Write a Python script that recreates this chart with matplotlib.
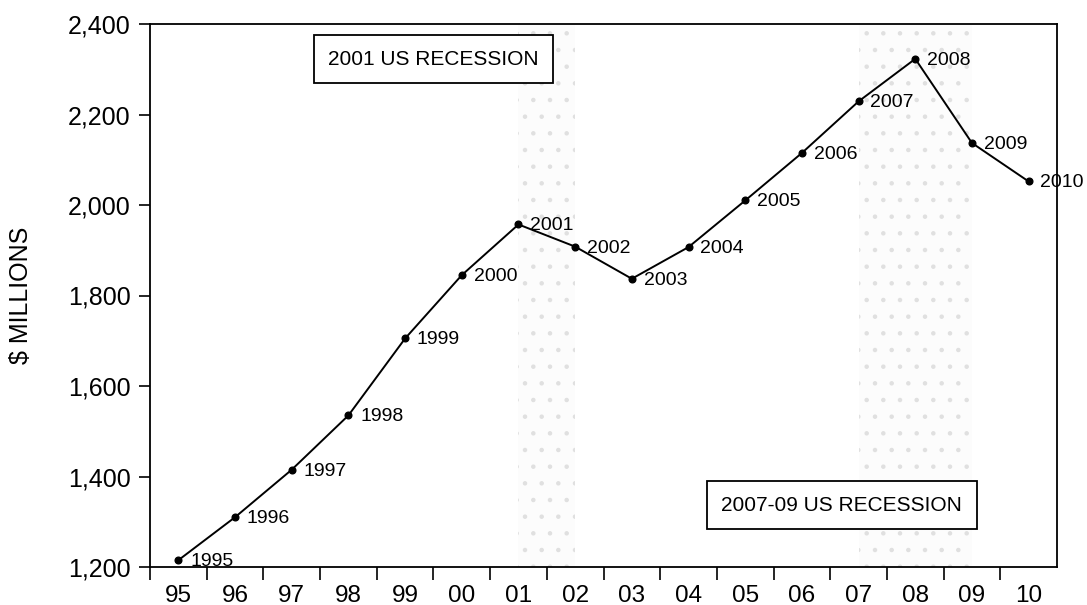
import matplotlib
matplotlib.use("Agg")
import matplotlib.pyplot as plt
from matplotlib.ticker import FixedLocator, FuncFormatter

years = [1995, 1996, 1997, 1998, 1999, 2000, 2001, 2002, 2003, 2004,
         2005, 2006, 2007, 2008, 2009, 2010]
values = [1215, 1310, 1415, 1535, 1705, 1845, 1957, 1908, 1837, 1907,
          2010, 2115, 2229, 2323, 2137, 2052]
tick_labels = ["95", "96", "97", "98", "99", "00", "01", "02", "03", "04",
               "05", "06", "07", "08", "09", "10"]
recessions = [(2001.5, 2002.5), (2007.5, 2009.5)]
recession_labels = ["2001 US RECESSION", "2007-09 US RECESSION"]
y_ticks = [1200, 1400, 1600, 1800, 2000, 2200, 2400]

plt.rcParams['font.family'] = ['Liberation Sans', 'DejaVu Sans']
plt.rcParams['hatch.linewidth'] = 0.8

fig = plt.figure(figsize=(10.87, 6.05), dpi=100)
ax = fig.add_axes([150/1087, 1-567/605, (1057-150)/1087, (567-24)/605])

xs = [y + 0.5 for y in years]

for (a, b) in recessions:
    ax.axvspan(a, b, facecolor='#fcfcfc', edgecolor='#e0e0e0', hatch='.', linewidth=0, zorder=0)

ax.plot(xs, values, color='black', linewidth=1.4, marker='o', markersize=4.8, zorder=3)

for x, y, yr in zip(xs, values, years):
    ax.annotate(str(yr), (x, y), xytext=(8.5, -1), textcoords='offset points',
                fontsize=14, ha='left', va='center', zorder=4)

ax.set_xlim(1995, 2011)
ax.set_ylim(1200, 2400)

def xlab(v, p):
    i = int(round(v - 0.5)) - 1995
    return tick_labels[i] if 0 <= i < len(tick_labels) else ""

ax.xaxis.set_major_locator(FixedLocator(list(range(1995, 2011))))
ax.xaxis.set_major_formatter(FuncFormatter(lambda v, p: ""))
ax.xaxis.set_minor_locator(FixedLocator(xs))
ax.xaxis.set_minor_formatter(FuncFormatter(xlab))
ax.tick_params(axis='x', which='major', direction='out', length=9, width=1.2)
ax.tick_params(axis='x', which='minor', length=0, pad=13, labelsize=17.5)

ax.set_yticks(y_ticks)
ax.yaxis.set_major_formatter(FuncFormatter(lambda v, p: f"{int(v):,}"))
ax.tick_params(axis='y', direction='out', length=8, width=1.2, labelsize=18, pad=6)

for s in ax.spines.values():
    s.set_linewidth(1.3)
    s.set_color('black')

ax.set_ylabel("$ MILLIONS", fontsize=18, labelpad=25)

box = dict(boxstyle='square,pad=0.7', facecolor='white', edgecolor='black', linewidth=1.3)
ax.text(2000.0, 2322, recession_labels[0], fontsize=15, ha='center', va='center', bbox=box, zorder=5)
ax.text(2007.2, 1337, recession_labels[1], fontsize=15, ha='center', va='center', bbox=box, zorder=5)

fig.savefig("out.png", dpi=100)
